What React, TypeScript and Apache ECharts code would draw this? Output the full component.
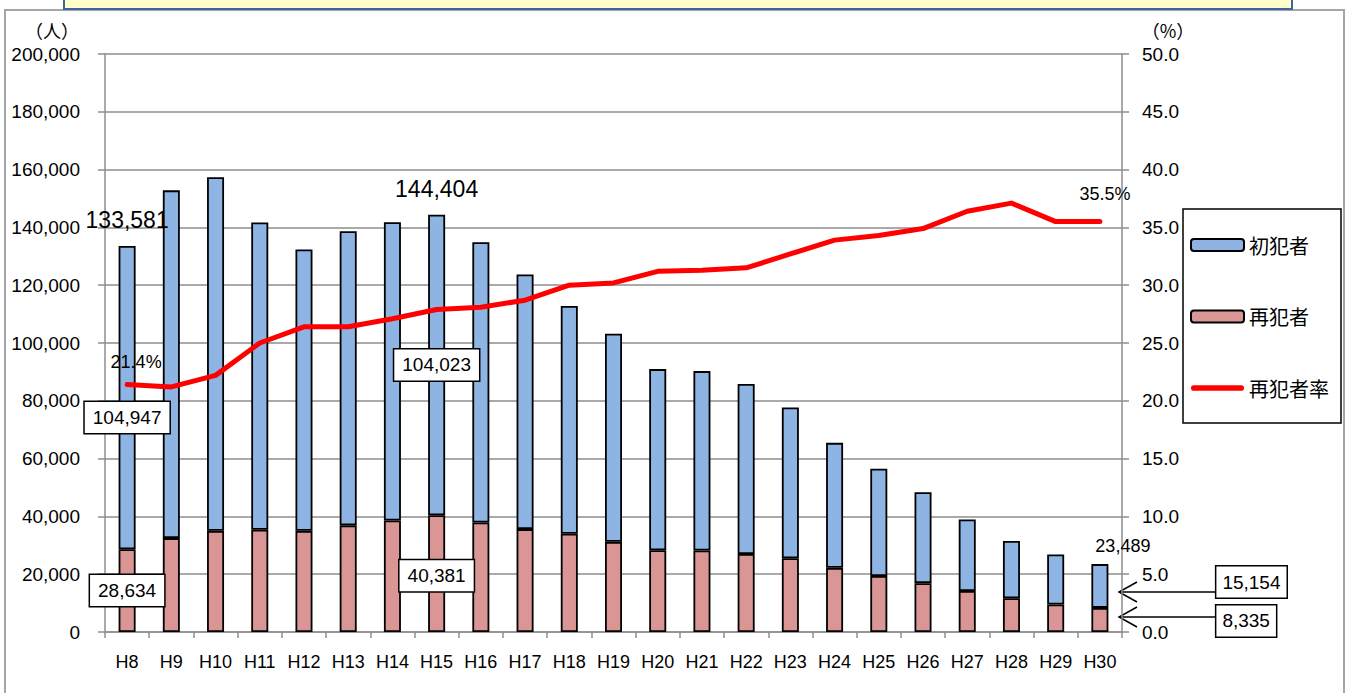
import React, { useEffect, useRef } from "react";
import * as echarts from "echarts";

const categories = ["H8","H9","H10","H11","H12","H13","H14","H15","H16","H17","H18","H19","H20","H21","H22","H23","H24","H25","H26","H27","H28","H29","H30"];
const totals = [133581,152825,157385,141721,132336,138654,141775,144404,134847,123715,112817,103224,90966,90282,85846,77696,65448,56469,48361,38921,31516,26797,23489];
const recidivists = [28634,32500,35000,35400,35000,36900,38600,40381,37900,35600,34000,31200,28300,28200,27000,25500,22200,19400,16900,14200,11700,9500,8335];
const rates = [21.4,21.2,22.2,25.0,26.4,26.4,27.1,27.9,28.1,28.7,30.0,30.2,31.2,31.3,31.5,32.7,33.9,34.3,34.9,36.4,37.1,35.5,35.5];
const leftTicks = { min: 0, max: 200000, interval: 20000 };
const rightTicks = { min: 0, max: 50, interval: 5 };

const NUM_FONT = "'Liberation Sans', 'Noto Sans CJK JP', sans-serif";
const JP_FONT = "'Noto Sans CJK JP', 'Noto Sans', sans-serif";
const fmt = (v: number) => v.toLocaleString("en-US");

export default function App() {
  const ref = useRef<HTMLDivElement>(null);
  useEffect(() => {
    document.body.style.margin = "0";
    const chart = echarts.init(ref.current!, null, { renderer: "svg" });
    const firsts = totals.map((t, i) => t - recidivists[i]);
    const boxLabel = {
      show: true,
      backgroundColor: "#fff",
      borderColor: "#000",
      borderWidth: 1.5,
      padding: [7, 8, 5, 8],
      fontSize: 19,
      color: "#000",
      fontFamily: NUM_FONT,
      formatter: (p: any) => fmt(p.value),
    };
    const plainLabel = (extra: any, f: (v: number) => string) => ({
      show: true,
      color: "#000",
      fontFamily: NUM_FONT,
      formatter: (p: any) => f(p.value),
      ...extra,
    });
    const recData = recidivists.map((v, i) => {
      if (i === 0) return { value: v, label: { ...boxLabel, position: "inside" } };
      if (i === 7) return { value: v, label: { ...boxLabel, position: "inside", offset: [0, 2] } };
      if (i === 22) return { value: v, label: { ...boxLabel, position: "right", distance: 108, offset: [0, 1], padding: [7, 6, 5, 6] } };
      return v;
    });
    const firstData = firsts.map((v, i) => {
      if (i === 0) return { value: v, label: { ...boxLabel, position: "inside", offset: [0, 20] } };
      if (i === 7) return { value: v, label: { ...boxLabel, position: "inside" } };
      if (i === 22) return { value: v, label: { ...boxLabel, position: "right", distance: 108, offset: [0, -4], padding: [7, 6, 5, 6] } };
      return v;
    });
    const totalData = totals.map((v, i) => {
      if (i === 0 || i === 7)
        return { value: v, label: plainLabel({ position: "top", distance: 14, fontSize: 23 }, fmt) };
      if (i === 22)
        return { value: v, label: plainLabel({ position: "top", distance: 9, offset: [23, 0], fontSize: 18 }, fmt) };
      return { value: v, label: { show: false } };
    });
    const pct = (v: number) => v.toFixed(1) + "%";
    const rateLabelData = rates.map((v, i) => {
      if (i === 0) return { value: v, label: plainLabel({ position: "top", distance: 13, offset: [9, 0], fontSize: 18 }, pct) };
      if (i === 22) return { value: v, label: plainLabel({ position: "top", distance: 18, offset: [5, 0], fontSize: 18 }, pct) };
      return { value: v, label: { show: false } };
    });

    const arrow = (y: number) => ({
      type: "group",
      children: [
        { type: "line", shape: { x1: 1215, y1: y, x2: 1120, y2: y }, style: { stroke: "#000", lineWidth: 1.5 } },
        { type: "polyline", shape: { points: [[1137, y - 10], [1119, y], [1137, y + 10]] }, style: { stroke: "#000", lineWidth: 1.5, fill: null } },
      ],
    });

    chart.setOption({
      animation: false,
      backgroundColor: "#fff",
      textStyle: { fontFamily: NUM_FONT },
      grid: { left: 105, right: 230, top: 54, bottom: 61, containLabel: false },
      legend: {
        data: [
          { name: "初犯者" },
          { name: "再犯者" },
          { name: "再犯者率", icon: "path://M3,0H53A3,3 0 0 1 53,6H3A3,3 0 0 1 3,0Z", itemStyle: { color: "#ff0000", borderWidth: 0 } },
        ],
        orient: "vertical",
        left: 1190,
        top: 235,
        padding: 0,
        itemWidth: 53,
        itemHeight: 12,
        itemGap: 51.5,
        textStyle: { fontSize: 20, lineHeight: 20, color: "#000", fontFamily: JP_FONT },
      },
      xAxis: {
        type: "category",
        data: categories,
        axisLine: { lineStyle: { color: "#8e8e8e", width: 1.5 } },
        axisTick: { show: true, length: 6, lineStyle: { color: "#8e8e8e", width: 1.5 } },
        axisLabel: { interval: 0, margin: 21, fontSize: 18, color: "#000", fontFamily: NUM_FONT },
      },
      yAxis: [
        {
          type: "value",
          ...leftTicks,
          axisLine: { show: true, lineStyle: { color: "#8e8e8e", width: 1.5 } },
          axisTick: { show: true, length: 7, lineStyle: { color: "#8e8e8e", width: 1.5 } },
          splitLine: { show: true, lineStyle: { color: "#8e8e8e", width: 1.5 } },
          axisLabel: { margin: 25, fontSize: 19, color: "#000", fontFamily: NUM_FONT, formatter: (v: number) => fmt(v) },
        },
        {
          type: "value",
          ...rightTicks,
          position: "right",
          axisLine: { show: true, lineStyle: { color: "#8e8e8e", width: 1.5 } },
          axisTick: { show: true, length: 7, lineStyle: { color: "#8e8e8e", width: 1.5 } },
          splitLine: { show: false },
          axisLabel: { margin: 20, fontSize: 19, color: "#000", fontFamily: NUM_FONT, formatter: (v: number) => v.toFixed(1) },
        },
      ],
      series: [
        {
          name: "再犯者",
          type: "bar",
          stack: "people",
          barWidth: 17,
          data: recData,
          itemStyle: { color: "#d99694", borderColor: "#000", borderWidth: 1.8 },
        },
        {
          name: "初犯者",
          type: "bar",
          stack: "people",
          barWidth: 17,
          data: firstData,
          itemStyle: { color: "#8eb4e3", borderColor: "#000", borderWidth: 1.8 },
        },
        {
          name: "合計",
          type: "scatter",
          data: totalData,
          symbolSize: 1,
          itemStyle: { color: "rgba(0,0,0,0)", opacity: 1 },
          silent: true,
          z: 5,
        },
        {
          name: "再犯者率",
          type: "line",
          yAxisIndex: 1,
          data: rates,
          symbol: "none",
          lineStyle: { color: "#ff0000", width: 5, cap: "round", join: "round" },
          itemStyle: { color: "#ff0000" },
          z: 4,
        },
        {
          name: "率ラベル",
          type: "scatter",
          yAxisIndex: 1,
          data: rateLabelData,
          symbolSize: 1,
          itemStyle: { color: "rgba(0,0,0,0)", opacity: 1 },
          silent: true,
          z: 6,
        },
      ],
      graphic: [
        { type: "rect", z: -10, shape: { x: 5, y: 10, width: 1339, height: 700 }, style: { fill: null, stroke: "#a6a6a6", lineWidth: 2 } },
        { type: "rect", z: 10, shape: { x: 64, y: -10, width: 1228, height: 19 }, style: { fill: "#ffffcc", stroke: "#3f64a0", lineWidth: 2 } },
        { type: "rect", z: 0, shape: { x: 1183, y: 209, width: 158, height: 214 }, style: { fill: null, stroke: "#000", lineWidth: 1.5 } },
        { type: "text", x: 52, y: 30, style: { text: "（人）", fontSize: 18, fontFamily: JP_FONT, fill: "#000", align: "center", verticalAlign: "middle" } },
        { type: "text", x: 1168, y: 30, style: { text: "（%）", fontSize: 18, fontFamily: JP_FONT, fill: "#000", align: "center", verticalAlign: "middle" } },
        arrow(592),
        arrow(617),
      ],
    });
    return () => chart.dispose();
  }, []);
  return <div ref={ref} style={{ position: "fixed", left: 0, top: 0, width: 1352, height: 693 }} />;
}
